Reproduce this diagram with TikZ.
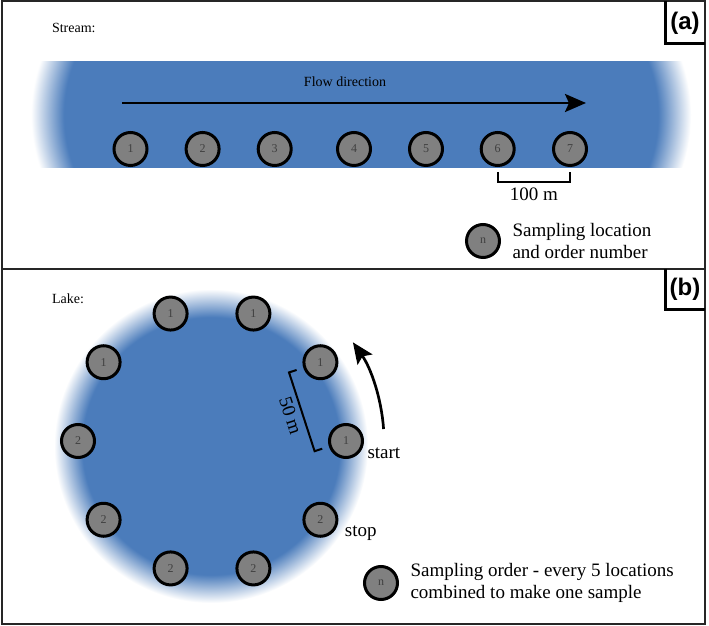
\documentclass[tikz,border=0pt]{standalone}
\usepackage{fontspec}
\setmainfont{Liberation Serif}
\newfontfamily\tagfont{Liberation Sans}
\usetikzlibrary{positioning,calc,arrows.meta}
\definecolor{waterblue}{RGB}{75,124,187}
\definecolor{sitegray}{RGB}{128,128,128}
\pgfdeclareradialshading{lakefade}{\pgfpointorigin}{%
  color(0bp)=(waterblue); color(20.5bp)=(waterblue);
  color(25bp)=(white); color(50bp)=(white)}
\pgfdeclareradialshading{streamfade}{\pgfpointorigin}{%
  color(0bp)=(waterblue); color(22.5bp)=(waterblue);
  color(25bp)=(white); color(50bp)=(white)}

\begin{document}
\begin{tikzpicture}[x=1pt,y=1pt,
    site/.style={%
        circle, draw=black, line width=3pt, fill=sitegray,
        minimum size=33pt, inner sep=0pt, text=black!75,
        font=\fontsize{12}{12}\selectfont},
    legend/.style={%
        align=left, font=\fontsize{19}{22.5}\selectfont},
    note/.style={font=\fontsize{19}{22}\selectfont},
    heading/.style={anchor=west, font=\fontsize{14}{16}\selectfont},
    flow/.style={line width=2.7pt,
        -{Stealth[length=21pt,width=18pt,inset=4pt]}},
    bar/.style={line width=2pt},
    frame/.style={line width=2pt, draw=black!85},
    tag/.style={font=\tagfont\bfseries\fontsize{24}{24}\selectfont},
    tagline/.style={line width=3pt},
]
    \fill[white] (0,0) rectangle (709,626);
    \useasboundingbox (0,0) rectangle (709,626);

     %Stream
    \begin{scope}
        \clip (0,458) rectangle (709,564);
        \shade[shading=streamfade] (361,511) ellipse [x radius=330, y radius=230];
    \end{scope}
    \node[heading] (streamtitle) at (48.5,598) {Stream:};
    \coordinate (f0) at (122,523);
    \coordinate (f1) at (586,523);
    \draw[flow] (f0) -- (f1);
    \node[font=\fontsize{14}{16}\selectfont] (flowtext) at (345,544) {Flow direction};
    \foreach \x [count=\n] in {130.5,202.6,274.7,354,426,497.7,570}
        \node[site] (s\n) at (\x,477) {\n};
    \draw[bar] ([yshift=-5pt]s6.south) -- ([yshift=-15pt]s6.south)
        -- node[note, below=2pt] (streamscale) {100 m} ([yshift=-15pt]s7.south)
        -- ([yshift=-5pt]s7.south);
    \node[site] (key1) at (483,385) {n};
    \node[legend, right=8pt of key1] (keytext1) {Sampling location\\and order number};

     %Lake
    \shade[shading=lakefade] (211,180) circle [radius=157];
    \node[heading] (laketitle) at (48.5,327) {Lake:};
    \coordinate (lc) at (212,185);
    \foreach \a/\n [count=\i] in {0/1,36/1,72/1,108/1,144/1,180/2,216/2,252/2,288/2,324/2}
        \node[site] (l\i) at ($(lc)+(\a:134)$) {\n};
    \coordinate (bt) at ($(l2)!33pt!-90:(l1)$);
    \coordinate (bb) at ($(l1)!33pt!90:(l2)$);
    \draw[bar] ($(bt)!8pt!(l2)$) -- (bt)
        -- node[note, sloped, below=1pt] (lakescale) {50 m} (bb)
        -- ($(bb)!8pt!(l1)$);
    \draw[flow] ($(lc)+(4:172)$) arc [start angle=4, end angle=35, radius=172];
    \node[note, anchor=west] (starttext) at ([yshift=-12pt]l1.east) {start};
    \node[note, anchor=west] (stoptext) at ([xshift=3pt,yshift=-13pt]l10.east) {stop};
    \node[site] (key2) at (381,43) {n};
    \node[legend, right=8pt of key2] (keytext2) {Sampling order - every 5 locations\\combined to make one sample};

     %Panels
    \draw[frame] (1.5,2) rectangle (705,624.5);
    \draw[frame] (1.5,357) -- (705,357);
    \draw[tagline] (665,624.5) |- (705,582);
    \node[tag] (taga) at (685,603) {(a)};
    \draw[tagline] (665,357) |- (705,316);
    \node[tag] (tagb) at (685,336.5) {(b)};
\end{tikzpicture}
\end{document}
